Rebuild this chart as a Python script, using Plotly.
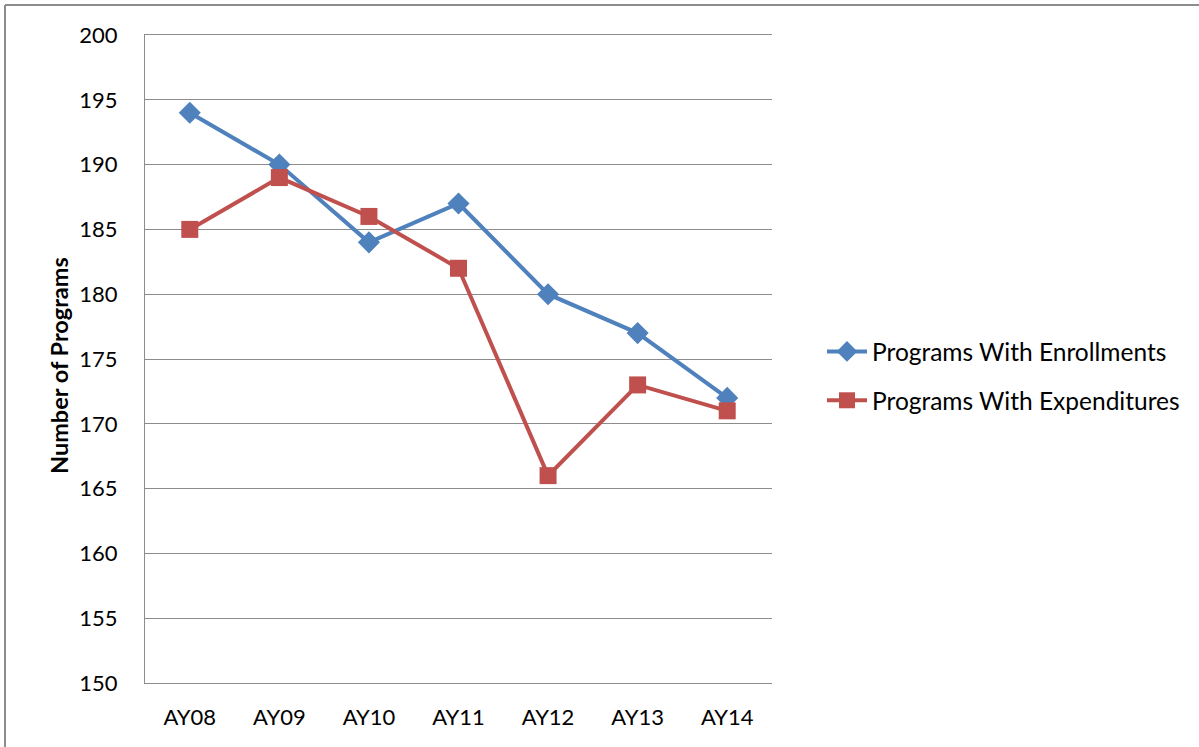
import plotly.graph_objects as go

# Academic years and program counts
years = ["AY08", "AY09", "AY10", "AY11", "AY12", "AY13", "AY14"]
with_enrollments = [194, 190, 184, 187, 180, 177, 172]
with_expenditures = [185, 189, 186, 182, 166, 173, 171]

BLUE = "#4F81BD"
RED = "#C0504D"
GRID = "#8c8c8c"
FONT = "Lato"

W, H = 1199, 747
L, R, T, B = 145, 427, 35, 64
pw, ph = W - L - R, H - T - B


def px_x(x):
    return (x - L) / pw


def px_y(y):
    return 1 - (y - T) / ph


fig = go.Figure()
fig.add_trace(go.Scatter(
    x=years, y=with_enrollments, mode="lines+markers",
    name="Programs With Enrollments", legendgroup="a",
    line=dict(color=BLUE, width=4),
    marker=dict(symbol="diamond", size=17, color=BLUE),
))
fig.add_trace(go.Scatter(
    x=years, y=with_expenditures, mode="lines+markers",
    name="Programs With Expenditures", legendgroup="b",
    line=dict(color=RED, width=4),
    marker=dict(symbol="square", size=17, color=RED),
))

fig.update_layout(
    width=W, height=H,
    margin=dict(l=L, r=R, t=T, b=B, autoexpand=False),
    paper_bgcolor="white", plot_bgcolor="white",
    font=dict(family=FONT, size=22, color="black"),
    showlegend=True,
    legend=dict(
        x=px_x(822), y=px_y(376), xanchor="left", yanchor="middle",
        font=dict(family=FONT, size=24.5, color="black"),
        traceorder="grouped", tracegroupgap=14,
        itemwidth=40, bgcolor="rgba(0,0,0,0)",
    ),
    xaxis=dict(
        type="category", range=[-0.5, 6.5],
        showgrid=False, ticks="", zeroline=False,
        showline=True, mirror=True, linecolor=GRID, linewidth=1,
        tickfont=dict(family=FONT, size=22),
        ticklabelstandoff=15,
    ),
    yaxis=dict(
        range=[150, 200], dtick=5, tick0=150,
        showgrid=True, gridcolor=GRID, gridwidth=1,
        showline=True, linecolor=GRID, linewidth=1,
        zeroline=False, ticks="",
        tickfont=dict(family=FONT, size=22),
        ticklabelstandoff=22,
    ),
    annotations=[dict(
        text="<b>Number of Programs</b>", textangle=-90,
        x=px_x(59), y=px_y(365), xref="paper", yref="paper",
        xanchor="center", yanchor="middle",
        showarrow=False, font=dict(family=FONT, size=23.5, color="black"),
    )],
    shapes=[
        # outer frame (top and left edges)
        dict(type="line", xref="paper", yref="paper",
             x0=px_x(5), x1=px_x(W + 5), y0=px_y(5), y1=px_y(5),
             line=dict(color=GRID, width=2)),
        dict(type="line", xref="paper", yref="paper",
             x0=px_x(5), x1=px_x(5), y0=px_y(5), y1=px_y(H + 5),
             line=dict(color=GRID, width=2)),
    ],
)

fig.write_html("out.html")
